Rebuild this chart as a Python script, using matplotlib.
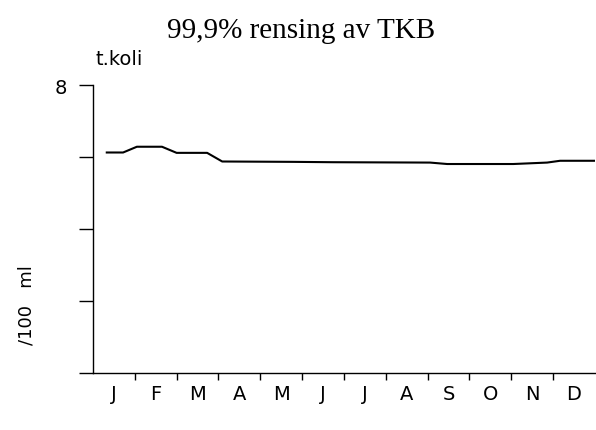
import numpy as np
import matplotlib
matplotlib.use("Agg")
import matplotlib.pyplot as plt

# month position (0 = start of Jan, 12 = end of Dec) and t.koli /100 ml
month_pos = [0.33, 0.72, 1.05, 1.65, 2.0, 2.73, 3.09, 4.78, 5.74, 8.06, 8.47, 10.05, 10.86, 11.17, 12.0]
koli = [6.13, 6.13, 6.29, 6.29, 6.12, 6.12, 5.88, 5.87, 5.86, 5.85, 5.81, 5.81, 5.85, 5.90, 5.90]
months = ["J", "F", "M", "A", "M", "J", "J", "A", "S", "O", "N", "D"]

fig = plt.figure(figsize=(5.96, 4.31), dpi=100)
ax = fig.add_axes([0.156, 0.132, 0.842, 0.668])

ax.plot(month_pos, koli, color="black", linewidth=1.5)

ax.set_xlim(0, 12)
ax.set_ylim(0, 8)
ax.spines["top"].set_visible(False)
ax.spines["right"].set_visible(False)
for s in ("left", "bottom"):
    ax.spines[s].set_linewidth(1.0)

ax.set_yticks([0, 2, 4, 6, 8])
ax.set_yticklabels(["", "", "", "", "8"], fontsize=14)
ax.tick_params(axis="y", direction="out", length=10, width=1.0, pad=9)

ax.set_xticks(np.arange(1, 12))
ax.set_xticklabels([])
ax.set_xticks(np.arange(12) + 0.5, labels=months, minor=True)
ax.tick_params(axis="x", which="major", direction="out", length=5, width=1.0)
ax.tick_params(axis="x", which="minor", length=0, pad=8, labelsize=14)

ax.set_ylabel("/100   ml", fontsize=13)
ax.yaxis.set_label_coords(-0.115, 0.24)

fig.text(0.160, 0.862, "t.koli", fontsize=14, ha="left", va="center")
fig.text(0.505, 0.927, "99,9% rensing av TKB", fontsize=21, family="Liberation Serif",
         ha="center", va="center")

fig.savefig("out.png", dpi=100)
